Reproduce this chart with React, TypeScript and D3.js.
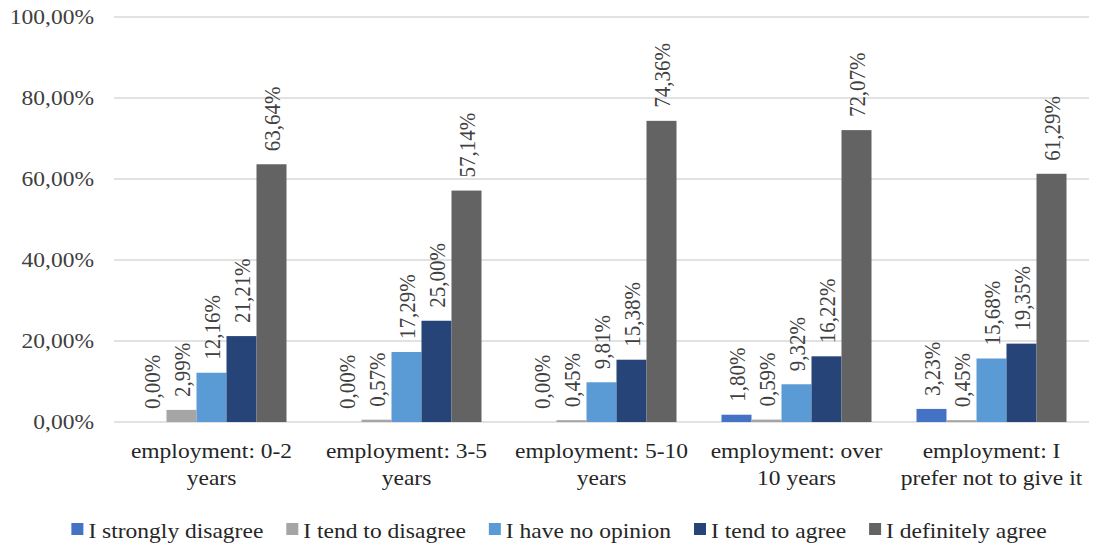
import React, {useEffect, useRef} from "react";
import * as d3 from "d3";

const categories = [
    ["employment: 0-2", "years"],
    ["employment: 3-5", "years"],
    ["employment: 5-10", "years"],
    ["employment: over", "10 years"],
    ["employment: I", "prefer not to give it"],
];
const seriesNames = ["I strongly disagree", "I tend to disagree", "I have no opinion", "I tend to agree", "I definitely agree"];
const seriesColors = ["#4472C4", "#A5A5A5", "#5B9BD5", "#264478", "#636363"];

const stronglyDisagree = [0.00, 0.00, 0.00, 1.80, 3.23];
const tendDisagree = [2.99, 0.57, 0.45, 0.59, 0.45];
const noOpinion = [12.16, 17.29, 9.81, 9.32, 15.68];
const tendAgree = [21.21, 25.00, 15.38, 16.22, 19.35];
const definitelyAgree = [63.64, 57.14, 74.36, 72.07, 61.29];
const yTicks = [0, 20, 40, 60, 80, 100];

const FONT = "'Liberation Serif', 'Times New Roman', serif";
const STRETCH = 1.12;

const pct = (v: number) => d3.format(".2f")(v).replace(".", ",") + "%";

export default function App() {
    const ref = useRef<SVGSVGElement>(null);

    useEffect(() => {
        const svg = d3.select(ref.current);
        svg.selectAll("*").remove();

        const series = [stronglyDisagree, tendDisagree, noOpinion, tendAgree, definitelyAgree];
        const keys = categories.map(c => c.join(" "));

        const x0 = d3.scaleBand().domain(keys).range([114, 1089]);
        const x1 = d3.scaleBand().domain(seriesNames).range([0, x0.bandwidth()]).paddingOuter(0.75);
        const y = d3.scaleLinear().domain([0, 100]).range([422, 17]);

        // gridlines
        svg.append("g").selectAll("line").data(yTicks).enter().append("line")
            .attr("x1", 114).attr("x2", 1089)
            .attr("y1", d => y(d)).attr("y2", d => y(d))
            .style("stroke", "#d9d9d9").style("stroke-width", "1.5px");

        // y labels
        svg.append("g").selectAll("text").data(yTicks).enter().append("text")
            .attr("transform", d => `translate(94,${y(d)}) scale(${STRETCH},1)`)
            .attr("dy", "0.35em")
            .attr("text-anchor", "end")
            .style("font-family", FONT).style("font-size", "21px").style("fill", "#404040")
            .text(d => pct(d));

        // bars
        const groups = svg.append("g").selectAll("g").data(keys).enter().append("g")
            .attr("transform", d => `translate(${x0(d)},0)`);

        groups.each(function (k, ci) {
            const g = d3.select(this);
            const vals = series.map((s, si) => ({name: seriesNames[si], color: seriesColors[si], v: s[ci]}));
            g.selectAll("rect").data(vals).enter().append("rect")
                .attr("x", d => x1(d.name)!)
                .attr("width", x1.bandwidth())
                .attr("y", d => y(d.v))
                .attr("height", d => y(0) - y(d.v))
                .style("fill", d => d.color);
            g.selectAll("text").data(vals).enter().append("text")
                .attr("transform", d => `translate(${x1(d.name)! + x1.bandwidth() / 2},${y(d.v) - 13}) rotate(-90) scale(1,${STRETCH})`)
                .attr("dy", "0.35em")
                .attr("text-anchor", "start")
                .style("font-family", FONT).style("font-size", "21px").style("fill", "#404040")
                .text(d => pct(d.v));
        });

        // category labels
        const cat = svg.append("g").selectAll("text").data(categories).enter().append("text")
            .attr("transform", d => `translate(${x0(d.join(" "))! + x0.bandwidth() / 2},458) scale(${STRETCH},1)`)
            .attr("text-anchor", "middle")
            .style("font-family", FONT).style("font-size", "21px").style("fill", "#262626");
        cat.each(function (d) {
            const t = d3.select(this);
            d.forEach((line, i) => {
                t.append("tspan").attr("x", 0).attr("y", i * 27).text(line);
            });
        });

        // legend
        const legend = svg.append("g");
        let cursor = 0;
        seriesNames.forEach((name, i) => {
            const item = legend.append("g").attr("transform", `translate(${cursor},0)`);
            item.append("rect").attr("x", 0).attr("y", 523).attr("width", 12).attr("height", 12)
                .style("fill", seriesColors[i]);
            const txt = item.append("text")
                .attr("transform", `translate(17,538) scale(${STRETCH},1)`)
                .style("font-family", FONT).style("font-size", "21px").style("fill", "#262626")
                .text(name);
            const w = (txt.node() as SVGTextElement).getComputedTextLength() * STRETCH;
            cursor += 17 + w + 23;
        });
        const total = cursor - 23;
        legend.attr("transform", `translate(${559 - total / 2},0)`);
    }, []);

    return (
        <svg ref={ref} width={1099} height={545}
             style={{position: "absolute", left: 0, top: 0, background: "#fff"}}/>
    );
}
